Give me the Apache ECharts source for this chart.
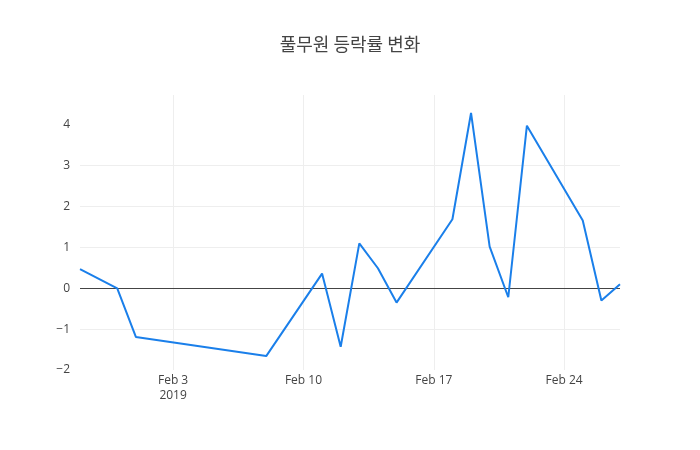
<!DOCTYPE html>
<html>
<head>
    <meta charset="utf-8">
    <script src="https://cdn.jsdelivr.net/npm/echarts@6/dist/echarts.min.js"></script>
    <style>
        html, body { margin: 0; padding: 0; background: #fff; }
    </style>
</head>
<body>
    <div id="main" style="width: 700px;height:450px;"></div>
    <script type="text/javascript">

    // trading days and daily change (%)
    var dates = ['2019-01-29', '2019-01-31', '2019-02-01', '2019-02-08', '2019-02-11',
                 '2019-02-12', '2019-02-13', '2019-02-14', '2019-02-15', '2019-02-18',
                 '2019-02-19', '2019-02-20', '2019-02-21', '2019-02-22', '2019-02-25',
                 '2019-02-26', '2019-02-27'];
    var changes = [0.47, 0.0, -1.19, -1.66, 0.36,
                   -1.43, 1.10, 0.49, -0.35, 1.69,
                   4.29, 1.02, -0.22, 3.98, 1.66,
                   -0.30, 0.10];
    var xTicks = ['2019-02-03', '2019-02-10', '2019-02-17', '2019-02-24'];
    var yTicks = [-2, -1, 0, 1, 2, 3, 4];

    var months = ['Jan', 'Feb', 'Mar', 'Apr', 'May', 'Jun', 'Jul', 'Aug', 'Sep', 'Oct', 'Nov', 'Dec'];

    function ts(s) {
        var p = s.split('-');
        return Date.UTC(+p[0], +p[1] - 1, +p[2]);
    }

    var data = dates.map(function (d, i) { return [ts(d), changes[i]]; });
    var tickVals = xTicks.map(ts);

    var myChart = echarts.init(document.getElementById('main'));

    myChart.setOption({
        animation: false,
        title: {
            text: '풀무원 등락률 변화',
            left: 'center',
            top: 30,
            textStyle: {
                fontFamily: 'Noto Sans CJK KR',
                fontSize: 18,
                fontWeight: 'normal',
                color: '#444'
            }
        },
        grid: {
            left: 80,
            right: 80,
            top: 95,
            bottom: 80
        },
        xAxis: {
            type: 'value',
            min: ts(dates[0]),
            max: ts(dates[dates.length - 1]),
            axisLine: { show: false },
            axisTick: { show: false, customValues: tickVals },
            splitLine: { show: true, lineStyle: { color: '#eee', width: 1 } },
            axisLabel: {
                customValues: tickVals,
                fontFamily: 'Open Sans',
                fontSize: 12,
                color: '#444',
                margin: 3,
                lineHeight: 15,
                formatter: function (v) {
                    var d = new Date(v);
                    var s = months[d.getUTCMonth()] + ' ' + d.getUTCDate();
                    if (v === tickVals[0]) s += '\n' + d.getUTCFullYear();
                    return s;
                }
            }
        },
        yAxis: {
            type: 'value',
            min: -2,
            max: 4.73,
            axisLine: { show: false },
            axisTick: { show: false, customValues: yTicks },
            splitLine: {
                show: true,
                showMinLine: false,
                showMaxLine: false,
                lineStyle: { color: '#eee', width: 1 }
            },
            axisLabel: {
                customValues: yTicks,
                fontFamily: 'Open Sans',
                fontSize: 12,
                color: '#444',
                margin: 10,
                formatter: function (v) {
                    return v < 0 ? '\u2212' + Math.abs(v) : String(v);
                }
            }
        },
        series: [
            {
                type: 'line',
                data: data,
                showSymbol: false,
                lineStyle: { color: '#1a7fea', width: 2 },
                itemStyle: { color: '#1a7fea' },
                z: 3,
                markLine: {
                    silent: true,
                    symbol: 'none',
                    label: { show: false },
                    lineStyle: { color: '#444', width: 1, type: 'solid' },
                    data: [{ yAxis: 0 }],
                    z: 2
                }
            }
        ]
    });

</script>
</body>
</html>
